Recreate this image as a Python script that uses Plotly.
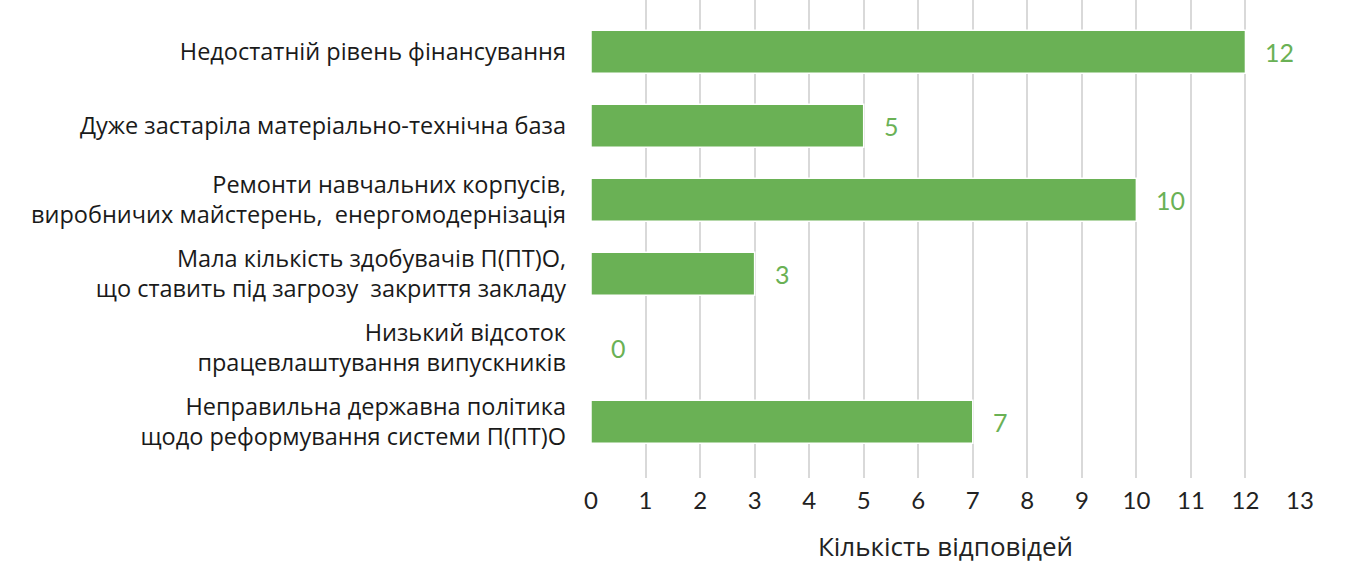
import plotly.graph_objects as go

categories = [
    "Недостатній рівень фінансування",
    "Дуже застаріла матеріально-технічна база",
    "Ремонти навчальних корпусів,<br>виробничих майстерень,  енергомодернізація",
    "Мала кількість здобувачів П(ПТ)О,<br>що ставить під загрозу  закриття закладу",
    "Низький відсоток<br>працевлаштування випускників",
    "Неправильна державна політика<br>щодо реформування системи П(ПТ)О",
]
counts = [12, 5, 10, 3, 0, 7]
x_ticks = list(range(0, 14))

GREEN = "#6ab155"

fig = go.Figure()
fig.add_trace(go.Bar(
    x=counts, y=categories, orientation="h",
    marker=dict(color=GREEN, line=dict(color="white", width=1.5)),
    width=0.58,
    hoverinfo="x+y",
))

for c, v in zip(categories, counts):
    fig.add_annotation(
        x=v, y=c, text=str(v), showarrow=False,
        xanchor="left", xshift=18,
        font=dict(family="Lato, Roboto, sans-serif", size=25, color=GREEN),
    )

fig.update_layout(
    width=1345, height=567,
    margin=dict(l=591, r=45, t=0, b=89),
    paper_bgcolor="white", plot_bgcolor="white",
    showlegend=False,
    font=dict(family="Open Sans, sans-serif", color="#1a1a1a"),
    xaxis=dict(
        range=[0, 13], tickvals=x_ticks, automargin=False,
        showgrid=True, gridcolor="#d9d9d9", gridwidth=2,
        zeroline=False, showline=False, ticks="",
        tickfont=dict(family="Lato, Roboto, sans-serif", size=24, color="#222"),
        ticklabelstandoff=6,
        title=dict(text="Кількість відповідей", standoff=24,
                   font=dict(family="Open Sans, sans-serif", size=26, color="#222")),
    ),
    yaxis=dict(
        categoryorder="array", categoryarray=categories, automargin=False,
        range=[5.76, -0.7], showgrid=False, zeroline=False, ticks="",
        tickfont=dict(family="Open Sans, sans-serif", size=23.5, color="#1a1a1a"),
        ticklabelstandoff=24,
    ),
)

fig.write_html("out.html", config={"displayModeBar": False},
               post_script="document.body.style.margin='0';")
